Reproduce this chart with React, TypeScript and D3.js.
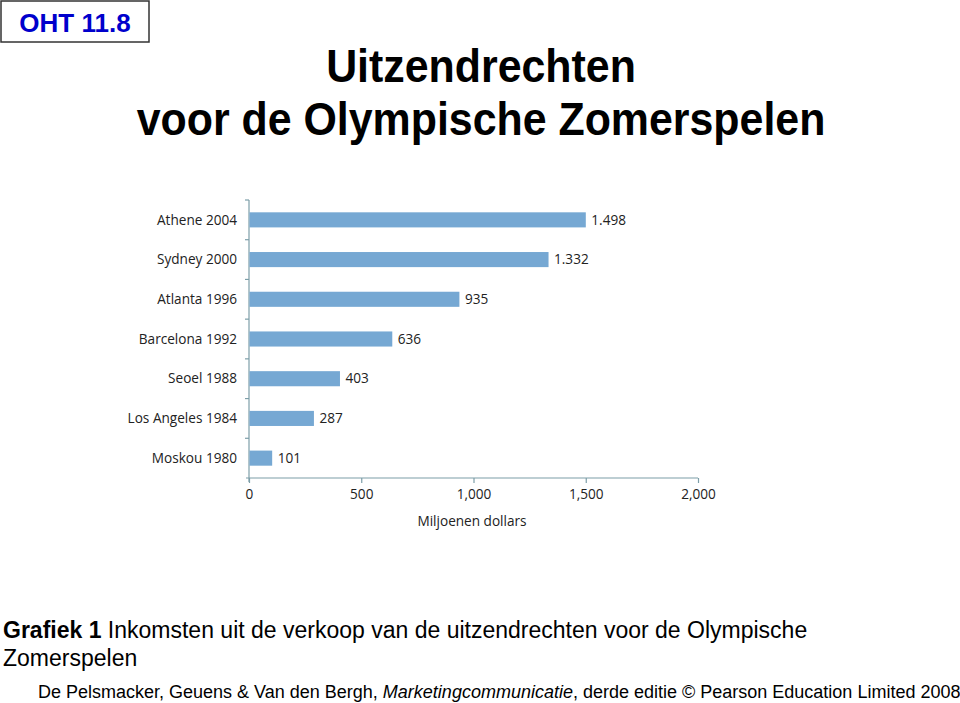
import { useEffect, useRef } from 'react';
import * as d3 from 'd3';

const games = ["Athene 2004", "Sydney 2000", "Atlanta 1996", "Barcelona 1992", "Seoel 1988", "Los Angeles 1984", "Moskou 1980"];
const revenue = [1498, 1332, 935, 636, 403, 287, 101];
const revenueLabels = ["1.498", "1.332", "935", "636", "403", "287", "101"];
const xTicks = [0, 500, 1000, 1500, 2000];
const xTickLabels = ["0", "500", "1,000", "1,500", "2,000"];

const App = () => {
    const svgRef = useRef<SVGSVGElement>(null);

    useEffect(() => {
        const svg = d3.select(svgRef.current);
        svg.selectAll("*").remove();

        const axisColor = "#7d9ea8";
        const chartFont = "'Open Sans', sans-serif";
        const fs = "13.6px";

        // badge top-left
        svg.append("rect")
            .attr("x", 1).attr("y", 1).attr("width", 148).attr("height", 41)
            .attr("fill", "#fff").attr("stroke", "#333").attr("stroke-width", 1.5);
        svg.append("text")
            .attr("x", 75).attr("y", 32)
            .attr("text-anchor", "middle")
            .style("font-family", "'Liberation Sans', Arial, sans-serif")
            .style("font-weight", "bold").style("font-size", "26px")
            .attr("fill", "#0000cc")
            .text("OHT 11.8");

        // title (slightly condensed like the original)
        const title = svg.append("text")
            .attr("text-anchor", "middle")
            .attr("transform", "translate(481,0) scale(0.975,1.03)")
            .style("font-family", "'Liberation Sans', Arial, sans-serif")
            .style("font-weight", "bold").style("font-size", "44px")
            .attr("fill", "#000");
        title.append("tspan").attr("x", 0).attr("y", 80).text("Uitzendrechten");
        title.append("tspan").attr("x", 0).attr("y", 131).text("voor de Olympische Zomerspelen");

        // chart
        const left = 249, right = 698, top = 200, bottom = 478;
        const x = d3.scaleLinear().domain([0, 2000]).range([left, right]);
        const y = d3.scaleBand().domain(games).range([top, bottom]).paddingInner(0.62).paddingOuter(0.31);

        const g = svg.append("g");

        // y axis line + ticks at band edges
        g.append("line")
            .attr("x1", left).attr("x2", left).attr("y1", top).attr("y2", bottom + 4)
            .attr("stroke", axisColor).attr("stroke-width", 1.2);
        const step = (bottom - top) / games.length;
        d3.range(games.length).forEach((i) => {
            g.append("line")
                .attr("x1", left - 4).attr("x2", left)
                .attr("y1", top + i * step).attr("y2", top + i * step)
                .attr("stroke", axisColor).attr("stroke-width", 1.2);
        });

        // x axis
        const xAxis = g.append("g")
            .attr("transform", "translate(0," + bottom + ")")
            .call(d3.axisBottom(x).tickValues(xTicks).tickSize(5).tickSizeOuter(0)
                .tickFormat((d, i) => xTickLabels[i]));
        xAxis.select(".domain").attr("stroke", axisColor).attr("stroke-width", 1.2)
            .attr("d", "M" + (left - 3) + ",0H" + right);
        xAxis.selectAll(".tick line").attr("stroke", axisColor).attr("stroke-width", 1.2);
        xAxis.selectAll(".tick text")
            .attr("y", 11)
            .style("font-family", chartFont).style("font-size", fs).attr("fill", "#222");

        // bars
        g.selectAll(".bar")
            .data(revenue)
            .enter().append("rect")
            .attr("class", "bar")
            .attr("x", x(0) + 0.5)
            .attr("y", (d, i) => y(games[i])!)
            .attr("width", (d) => x(d) - x(0))
            .attr("height", y.bandwidth())
            .attr("fill", "#76a8d3");

        // value labels
        g.selectAll(".val")
            .data(revenue)
            .enter().append("text")
            .attr("class", "val")
            .attr("x", (d) => x(d) + 6)
            .attr("y", (d, i) => y(games[i])! + y.bandwidth() / 2)
            .attr("dy", "0.35em")
            .style("font-family", chartFont).style("font-size", fs).attr("fill", "#222")
            .text((d, i) => revenueLabels[i]);

        // category labels
        g.selectAll(".cat")
            .data(games)
            .enter().append("text")
            .attr("class", "cat")
            .attr("x", left - 12)
            .attr("y", (d) => y(d)! + y.bandwidth() / 2)
            .attr("dy", "0.35em")
            .attr("text-anchor", "end")
            .style("font-family", chartFont).style("font-size", fs).attr("fill", "#222")
            .text((d) => d);

        g.append("text")
            .attr("x", 472).attr("y", 526)
            .attr("text-anchor", "middle")
            .style("font-family", chartFont).style("font-size", fs).attr("fill", "#222")
            .text("Miljoenen dollars");

        // caption
        const cap = svg.append("text")
            .style("font-family", "'Liberation Sans', Arial, sans-serif")
            .style("font-size", "23px").attr("fill", "#000");
        const l1 = cap.append("tspan").attr("x", 3).attr("y", 638);
        l1.append("tspan").style("font-weight", "bold").text("Grafiek 1");
        l1.append("tspan").text(" Inkomsten uit de verkoop van de uitzendrechten voor de Olympische");
        cap.append("tspan").attr("x", 3).attr("y", 666).text("Zomerspelen");

        const foot = svg.append("text")
            .attr("x", 38).attr("y", 698)
            .style("font-family", "'Liberation Sans', Arial, sans-serif")
            .style("font-size", "18px").attr("fill", "#000");
        foot.append("tspan").text("De Pelsmacker, Geuens & Van den Bergh, ");
        foot.append("tspan").style("font-style", "italic").text("Marketingcommunicatie");
        foot.append("tspan").text(", derde editie © Pearson Education Limited 2008");
    }, []);

    return (
        <svg ref={svgRef} width={960} height={703}
            style={{ position: "absolute", left: 0, top: 0, background: "#fff" }} />
    );
};

export default App;
